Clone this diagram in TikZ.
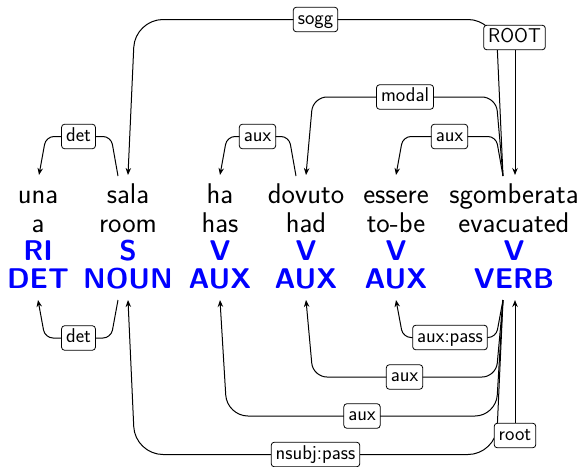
\documentclass[tikz,border=0pt]{standalone}
\usepackage{fontspec}
\usetikzlibrary{calc,arrows.meta}
\pgfdeclarelayer{bg}
\pgfsetlayers{bg,main}
\definecolor{posblue}{RGB}{0,0,255}
\newcommand\depedge[4]{\draw[edge, rounded corners=#4] (#1) -- ($(#1 |- #3)+(-7,0)$) -- ($(#2 |- #3)+(7,0)$) -- (#2);}
\begin{document}
\begin{tikzpicture}[x=1pt,y=-1pt,
  word/.style={font=\sffamily\fontsize{28.5}{28.5}\selectfont, anchor=base, inner sep=0pt},
  tag/.style={font=\sffamily\bfseries\fontsize{28.5}{28.5}\selectfont, anchor=base, inner sep=0pt, text=posblue},
  lab/.style={draw, fill=white, rounded corners=3pt, line width=0.8pt, font=\sffamily\fontsize{20}{20}\selectfont, inner xsep=4.5pt, inner ysep=2.5pt, text height=14.5pt, text depth=5pt},
  edge/.style={line width=1pt, -{Stealth[length=7pt,width=5.5pt]}},
]
\useasboundingbox (0,0) rectangle (588,466);
% words
\node[word] (w1) at (38,203) {una};
\node[word] (w2) at (128,203) {sala};
\node[word] (w3) at (220,203) {ha};
\node[word] (w4) at (306,203) {dovuto};
\node[word] (w5) at (396,203) {essere};
\node[word] (w6) at (514,203) {sgomberata};
\node[word] (g1) at (38,232) {a};
\node[word] (g2) at (128,232) {room};
\node[word] (g3) at (220,232) {has};
\node[word] (g4) at (306,232) {had};
\node[word] (g5) at (396,232) {to-be};
\node[word] (g6) at (514,232) {evacuated};
\node[tag] (p1) at (38,260) {RI};
\node[tag] (p2) at (128,260) {S};
\node[tag] (p3) at (220,260) {V};
\node[tag] (p4) at (306,260) {V};
\node[tag] (p5) at (396,260) {V};
\node[tag] (p6) at (514,260) {V};
\node[tag] (u1) at (38,288) {DET};
\node[tag] (u2) at (128,288) {NOUN};
\node[tag] (u3) at (220,288) {AUX};
\node[tag] (u4) at (306,288) {AUX};
\node[tag] (u5) at (396,288) {AUX};
\node[tag] (u6) at (514,288) {VERB};
% anchors
\coordinate (unaT) at (39,175);
\coordinate (salaT) at (128,175);
\coordinate (salaS) at (118,176);
\coordinate (haT) at (220,175);
\coordinate (dovT) at (306,175);
\coordinate (dovS) at (296,176);
\coordinate (essT) at (396,175);
\coordinate (verbS) at (503,176);
\coordinate (verbT) at (515,175);
\coordinate (unaB) at (38,300);
\coordinate (salaBS) at (118,300);
\coordinate (salaB) at (128,300);
\coordinate (haB) at (220,300);
\coordinate (dovB) at (306,300);
\coordinate (essB) at (396,300);
\coordinate (verbBS) at (503,300);
\coordinate (verbB) at (515,300);
% labels
\node[lab] (Ldet) at (78.5,136.5) {det};
\node[lab] (Lsogg) at (315.5,19.5) {sogg};
\node[lab] (LROOT) at (514.5,37.5) {ROOT};
\node[lab] (Lmodal) at (405,97) {modal};
\node[lab] (Laux1) at (257.5,136.5) {aux};
\node[lab] (Laux2) at (449.5,136.5) {aux};
\node[lab] (Ldet2) at (78.5,338) {det};
\node[lab] (Lauxpass) at (450,337.5) {aux:pass};
\node[lab] (Laux3) at (404.5,377) {aux};
\node[lab] (Laux4) at (362,416) {aux};
\node[lab] (Lnsubj) at (315.5,454.5) {nsubj:pass};
\node[lab] (Lroot) at (515,435.5) {root};
% edges
\begin{pgfonlayer}{bg}
\depedge{salaS}{unaT}{Ldet}{8pt}
\depedge{verbS}{salaT}{Lsogg}{28pt}
\depedge{verbS}{dovT}{Lmodal}{14pt}
\depedge{dovS}{haT}{Laux1}{8pt}
\depedge{verbS}{essT}{Laux2}{8pt}
\draw[edge] (LROOT.south -| verbT) -- (verbT);
\depedge{salaBS}{unaB}{Ldet2}{8pt}
\depedge{verbBS}{essB}{Lauxpass}{8pt}
\depedge{verbBS}{dovB}{Laux3}{14pt}
\depedge{verbBS}{haB}{Laux4}{21pt}
\depedge{verbBS}{salaB}{Lnsubj}{28pt}
\draw[edge] (Lroot.north -| verbB) -- (verbB);
\end{pgfonlayer}
\end{tikzpicture}
\end{document}
